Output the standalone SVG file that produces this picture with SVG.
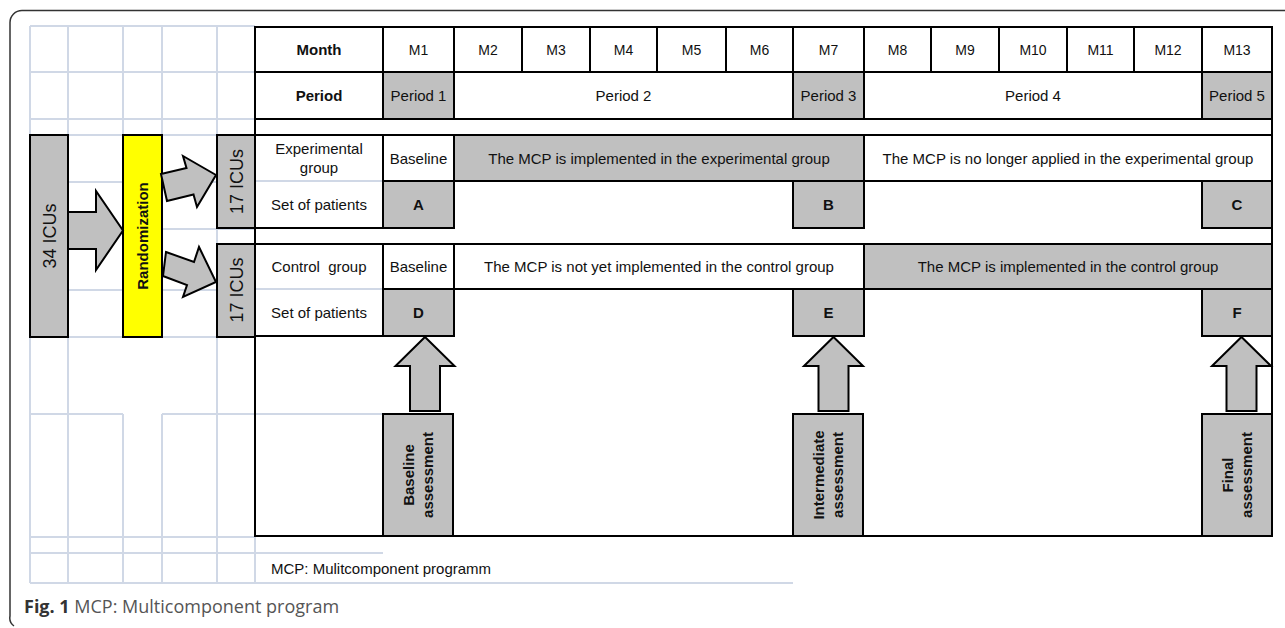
<svg xmlns="http://www.w3.org/2000/svg" width="1285" height="628" viewBox="0 0 1285 628">
<style>
.grid{stroke:#d0d8e6;stroke-width:2;fill:none}
.cell{stroke:#000;stroke-width:2;fill:#fff}
.g{fill:#c0c0c0}
.y{fill:#ffff00}
.ln{stroke:#000;stroke-width:2;fill:none}
.arr{stroke:#000;stroke-width:2;fill:#c0c0c0;stroke-linejoin:miter}
text{font-family:"Liberation Sans",Arial,sans-serif;font-size:15px;fill:#111;text-anchor:middle}
.b{font-weight:bold}
.m{font-size:14px}
.big{font-size:18px}
.cap{font-family:"Open Sans","Noto Sans",sans-serif;font-size:18px;text-anchor:start;fill:#555}
</style>
<rect width="1285" height="628" fill="#fff"/>
<path d="M1285 10.5 H22 A12 12 0 0 0 10 22.5 V616 A10 10 0 0 0 14 626" fill="none" stroke="#333" stroke-width="1.5"/>
<g id="grid">
<path class="grid" d="M30 26V583M68 26V583M123 26V135M162 26V135M123 414V583M162 414V583M217 26V583M255 537V583"/>
<path class="grid" d="M30 26H255M30 72H255M30 119H255M30 135H255M30 182H255M30 229H255M30 290H255M30 337H255M30 414H123M162 414H383M30 537H255M30 553H383M30 583H793M255 181H383M255 289H383"/>
</g>
<g id="table">
<rect x="255" y="27" width="1017" height="509" fill="#fff" stroke="none"/>
<g id="row-month">
<rect class="cell" x="255" y="27" width="128" height="45"/>
<rect class="cell" x="383" y="27" width="71" height="45"/>
<rect class="cell" x="454" y="27" width="68" height="45"/>
<rect class="cell" x="522" y="27" width="68" height="45"/>
<rect class="cell" x="590" y="27" width="67" height="45"/>
<rect class="cell" x="657" y="27" width="69" height="45"/>
<rect class="cell" x="726" y="27" width="67" height="45"/>
<rect class="cell" x="793" y="27" width="71" height="45"/>
<rect class="cell" x="864" y="27" width="67" height="45"/>
<rect class="cell" x="931" y="27" width="68" height="45"/>
<rect class="cell" x="999" y="27" width="68" height="45"/>
<rect class="cell" x="1067" y="27" width="67" height="45"/>
<rect class="cell" x="1134" y="27" width="68" height="45"/>
<rect class="cell" x="1202" y="27" width="70" height="45"/>
<text class="b" x="319" y="55">Month</text>
<text class="m" x="418.5" y="55">M1</text>
<text class="m" x="488" y="55">M2</text>
<text class="m" x="556" y="55">M3</text>
<text class="m" x="623.5" y="55">M4</text>
<text class="m" x="691.5" y="55">M5</text>
<text class="m" x="759.5" y="55">M6</text>
<text class="m" x="828.5" y="55">M7</text>
<text class="m" x="897.5" y="55">M8</text>
<text class="m" x="965" y="55">M9</text>
<text class="m" x="1033" y="55">M10</text>
<text class="m" x="1100.5" y="55">M11</text>
<text class="m" x="1168" y="55">M12</text>
<text class="m" x="1237" y="55">M13</text>
</g>
<g id="row-period">
<rect class="cell" x="255" y="72" width="128" height="47"/>
<rect class="cell g" x="383" y="72" width="71" height="47"/>
<rect class="cell" x="454" y="72" width="339" height="47"/>
<rect class="cell g" x="793" y="72" width="71" height="47"/>
<rect class="cell" x="864" y="72" width="338" height="47"/>
<rect class="cell g" x="1202" y="72" width="70" height="47"/>
<text class="b" x="319" y="101">Period</text>
<text x="418.5" y="101">Period 1</text>
<text x="623.5" y="101">Period 2</text>
<text x="828.5" y="101">Period 3</text>
<text x="1033" y="101">Period 4</text>
<text x="1237" y="101">Period 5</text>
</g>
<g id="row-experimental">
<rect class="cell" x="383" y="135" width="71" height="46"/>
<rect class="cell g" x="454" y="135" width="410" height="46"/>
<rect class="cell" x="864" y="135" width="408" height="46"/>
<path class="ln" d="M255 135H1272M383 135V228M255 228H454"/>
<text x="319" y="154">Experimental</text>
<text x="319" y="173">group</text>
<text x="418.5" y="163.5">Baseline</text>
<text x="659" y="163.5">The MCP is implemented in the experimental group</text>
<text x="1068" y="163.5">The MCP is no longer applied in the experimental group</text>
<text x="319" y="210">Set of patients</text>
</g>
<g id="patients-A"><rect class="cell g" x="383" y="181" width="71" height="47"/><text class="b" x="418.5" y="210">A</text></g>
<g id="patients-B"><rect class="cell g" x="793" y="181" width="71" height="47"/><text class="b" x="828.5" y="210">B</text></g>
<g id="patients-C"><rect class="cell g" x="1202" y="181" width="70" height="47"/><text class="b" x="1237" y="210">C</text></g>
<g id="row-control">
<rect class="cell" x="383" y="244" width="71" height="45"/>
<rect class="cell" x="454" y="244" width="410" height="45"/>
<rect class="cell g" x="864" y="244" width="408" height="45"/>
<path class="ln" d="M255 244H1272M383 244V336M255 336H454"/>
<text x="319" y="272" xml:space="preserve">Control  group</text>
<text x="418.5" y="272">Baseline</text>
<text x="659" y="272">The MCP is not yet implemented in the control group</text>
<text x="1068" y="272">The MCP is implemented in the control group</text>
<text x="319" y="318">Set of patients</text>
</g>
<g id="patients-D"><rect class="cell g" x="383" y="289" width="71" height="47"/><text class="b" x="418.5" y="318">D</text></g>
<g id="patients-E"><rect class="cell g" x="793" y="289" width="71" height="47"/><text class="b" x="828.5" y="318">E</text></g>
<g id="patients-F"><rect class="cell g" x="1202" y="289" width="70" height="47"/><text class="b" x="1237" y="318">F</text></g>
<path class="grid" d="M255 181H382M255 289H382M255 414H382"/>
<path class="ln" d="M255 27V536H1272V27"/>
</g>
<g id="baseline-assessment">
<rect class="cell g" x="383" y="414" width="70" height="122"/>
<g transform="translate(418,475) rotate(-90)"><text class="b" x="0" y="-4">Baseline</text><text class="b" x="0" y="15">assessment</text></g>
</g>
<g id="intermediate-assessment">
<rect class="cell g" x="793" y="414" width="70" height="122"/>
<g transform="translate(828,475) rotate(-90)"><text class="b" x="0" y="-4">Intermediate</text><text class="b" x="0" y="15">assessment</text></g>
</g>
<g id="final-assessment">
<rect class="cell g" x="1202" y="414" width="70" height="122"/>
<g transform="translate(1237,475) rotate(-90)"><text class="b" x="0" y="-4">Final</text><text class="b" x="0" y="15">assessment</text></g>
</g>
<g id="icus-34">
<rect class="cell g" x="30" y="135" width="38" height="202"/>
<text class="big" transform="translate(49,236) rotate(-90)" x="0" y="6.5">34 ICUs</text>
</g>
<g id="randomization">
<rect class="cell y" x="123" y="135" width="39" height="202"/>
<text class="b" transform="translate(142.5,236) rotate(-90)" x="0" y="5.5">Randomization</text>
</g>
<g id="icus-17-experimental">
<rect class="cell g" x="217" y="135" width="38" height="93"/>
<text class="big" transform="translate(236,181.5) rotate(-90)" x="0" y="6.5">17 ICUs</text>
</g>
<g id="icus-17-control">
<rect class="cell g" x="217" y="244" width="38" height="93"/>
<text class="big" transform="translate(236,290) rotate(-90)" x="0" y="6.5">17 ICUs</text>
</g>
<g id="connectors">
<polygon class="arr" points="68,212 96,212 96,191 123,230.5 96,270 96,249 68,249"/>
<polygon class="arr" points="161,174 186.5,168 183,156 216,175 197,207 193.5,194.5 167,201"/>
<polygon class="arr" points="166,252 194,262 199,247 216,282 183,297 187,285 163,276"/>
<polygon class="arr" points="425,337 454.5,366 440,366 440,411 410,411 410,366 395.5,366"/>
<polygon class="arr" points="833.5,337 863,366 848.5,366 848.5,411 818.5,411 818.5,366 804,366"/>
<polygon class="arr" points="1241.5,337 1271,366 1256.5,366 1256.5,411 1226.5,411 1226.5,366 1212,366"/>
</g>
<text x="271" y="574" style="text-anchor:start">MCP: Mulitcomponent programm</text>
<text class="cap" x="24" y="613"><tspan font-weight="bold" fill="#333">Fig. 1</tspan> MCP: Multicomponent program</text>
</svg>
